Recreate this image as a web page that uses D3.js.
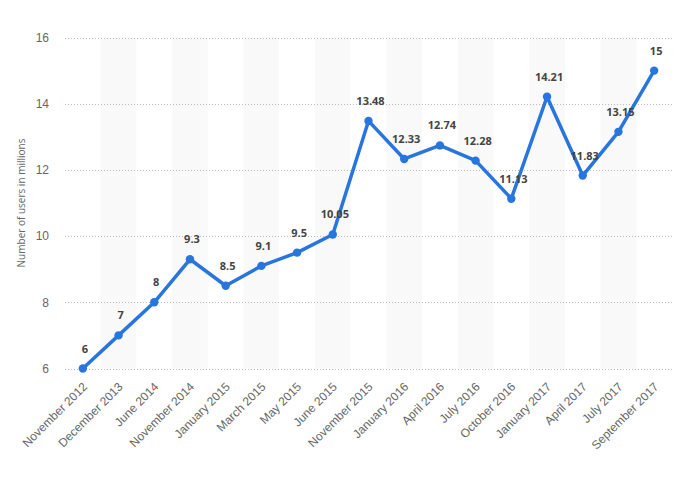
<!DOCTYPE html>
<html><head><meta charset="utf-8">
<script src="https://cdn.jsdelivr.net/npm/d3@7/dist/d3.min.js"></script>
<style>body{margin:0;background:#fff;} svg{display:block;font-family:"Open Sans",sans-serif;}</style>
</head><body>
<svg id="c" width="696" height="479"></svg>
<script>
const categories = ["November 2012","December 2013","June 2014","November 2014","January 2015","March 2015","May 2015","June 2015","November 2015","January 2016","April 2016","July 2016","October 2016","January 2017","April 2017","July 2017","September 2017"];
const values = [6,7,8,9.3,8.5,9.1,9.5,10.05,13.48,12.33,12.74,12.28,11.13,14.21,11.83,13.15,15];
const yTicks = [6,8,10,12,14,16];
const yTitle = "Number of users in millions";

(function(){
const svg = d3.select("#c");
const pLeft = 65, pRight = 672, pTop = 37.5, pBottom = 368.5;
const x = d3.scaleBand().domain(categories).range([pLeft, pRight]).padding(0);
const y = d3.scaleLinear().domain([6,16]).range([pBottom, pTop]);

svg.append("g").selectAll("rect").data(categories.filter((d,i)=>i%2===1)).join("rect")
  .attr("x", d=>x(d)).attr("width", x.bandwidth())
  .attr("y", pTop).attr("height", pBottom-pTop).attr("fill", "#f9f9f9");

svg.append("g").selectAll("line").data(yTicks).join("line")
  .attr("x1", pLeft).attr("x2", pRight)
  .attr("y1", d=>Math.round(y(d))+0.5).attr("y2", d=>Math.round(y(d))+0.5)
  .attr("stroke", "#bbb").attr("stroke-dasharray", "1,2").attr("stroke-width", 1);

const yAxis = d3.axisLeft(y).tickValues(yTicks).tickSize(0).tickPadding(0);
const gy = svg.append("g").attr("transform", `translate(49,0)`).call(yAxis);
gy.select(".domain").remove();
gy.selectAll("text").attr("fill", "#666").style("font-size", "12px").attr("dx", 0);

const xAxis = d3.axisBottom(x).tickSize(0).tickPadding(0);
const gx = svg.append("g").attr("transform", `translate(0,${pBottom})`).call(xAxis);
gx.select(".domain").remove();
gx.selectAll("text").attr("fill", "#666").style("font-size", "12px")
  .attr("text-anchor", "end").attr("dy", null).attr("y", 0)
  .attr("transform", "translate(5,19) rotate(-45)");

svg.append("text").attr("transform", `translate(25,${(pTop+pBottom)/2}) rotate(-90)`)
  .attr("text-anchor", "middle").attr("fill", "#666").style("font-size", "10px").text(yTitle);

const cx = d => x(d) + x.bandwidth()/2;
const line = d3.line().x((d,i)=>cx(categories[i])).y(d=>y(d));
svg.append("path").datum(values).attr("d", line).attr("fill", "none")
  .attr("stroke", "#2876dd").attr("stroke-width", 3.5).attr("stroke-linejoin", "round");

svg.append("g").selectAll("circle").data(values).join("circle")
  .attr("cx", (d,i)=>cx(categories[i])).attr("cy", d=>y(d)).attr("r", 4.2).attr("fill", "#2876dd");

svg.append("g").selectAll("text").data(values).join("text")
  .attr("x", (d,i)=>cx(categories[i])+2).attr("y", d=>y(d)-16)
  .attr("text-anchor", "middle").attr("fill", "#444").style("font-size", "11px").style("font-weight", "bold")
  .text(d=>d);
})();
</script>
</body></html>
